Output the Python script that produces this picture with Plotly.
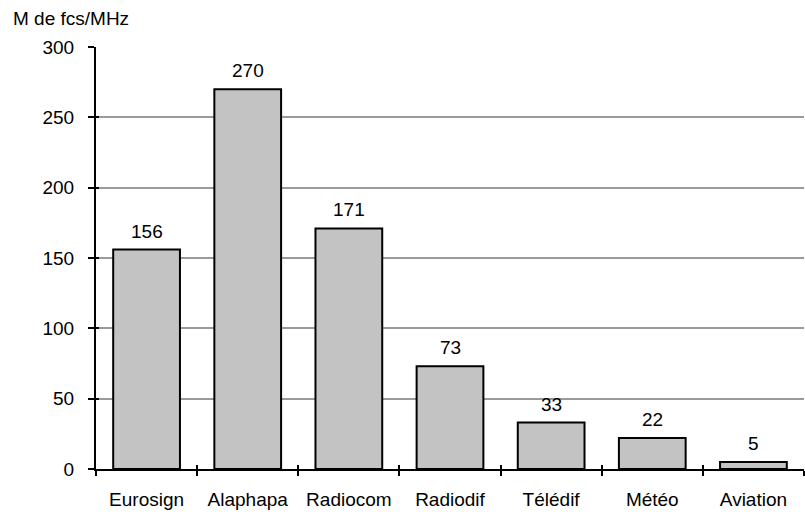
import plotly.graph_objects as go

# Bandwidth usage by service (millions of fcs per MHz)
services = ["Eurosign", "Alaphapa", "Radiocom", "Radiodif", "Télédif", "Météo", "Aviation"]
values = [156, 270, 171, 73, 33, 22, 5]
y_ticks = [0, 50, 100, 150, 200, 250, 300]

FONT = "Liberation Sans, Arial, sans-serif"
FS = 19

fig = go.Figure()
fig.add_trace(go.Bar(
    x=services,
    y=values,
    width=0.66,
    marker=dict(
        color="#e4e4e4",
        line=dict(color="black", width=2),
        pattern=dict(shape=".", size=2, solidity=0.5,
                     fgcolor="#9a9a9a", bgcolor="#e4e4e4", fillmode="replace"),
    ),
    hoverinfo="x+y",
))

# value labels above each bar
for s, v in zip(services, values):
    fig.add_annotation(x=s, y=v, text=str(v), showarrow=False,
                       yanchor="bottom", yshift=6,
                       font=dict(family=FONT, size=FS, color="black"))

fig.add_annotation(x=0, xref="paper", xanchor="left", xshift=-85,
                   y=1, yref="paper", yanchor="bottom", yshift=16,
                   text="M de fcs/MHz", showarrow=False,
                   font=dict(family=FONT, size=FS, color="black"))

fig.update_layout(
    width=805, height=512,
    margin=dict(l=96, r=1, t=47, b=43),
    paper_bgcolor="white", plot_bgcolor="white",
    showlegend=False,
    font=dict(family=FONT, size=FS, color="black"),
    bargap=0.34,
)
fig.update_xaxes(
    type="category", range=[-0.5, 6.5],
    showline=True, linecolor="black", linewidth=2,
    ticks="outside", ticklen=5, tickwidth=2, tickcolor="black",
    tickson="boundaries", showgrid=False,
    ticklabelstandoff=12,
    tickfont=dict(family=FONT, size=FS, color="black"),
)
fig.update_yaxes(
    range=[0, 300], tickvals=y_ticks,
    showline=True, linecolor="black", linewidth=2,
    ticks="outside", ticklen=6, tickwidth=2, tickcolor="black",
    showgrid=True, gridcolor="#9a9a9a", gridwidth=2,
    zeroline=False, ticklabelstandoff=10,
    tickfont=dict(family=FONT, size=FS, color="black"),
)
# inside halves of the crossing ticks on both axes
fig.update_layout(
    xaxis2=dict(overlaying="x", anchor="y", side="bottom", type="category",
                matches="x", ticks="inside", ticklen=4, tickwidth=2, tickcolor="black",
                tickson="boundaries", showticklabels=False, showgrid=False, showline=False),
    yaxis2=dict(overlaying="y", anchor="x", side="left", matches="y",
                tickvals=y_ticks, ticks="inside", ticklen=3, tickwidth=2, tickcolor="black",
                showticklabels=False, showgrid=False, showline=False, zeroline=False),
)
fig.add_trace(go.Scatter(x=services, y=[None]*len(services), xaxis="x2", yaxis="y2",
                         showlegend=False, hoverinfo="skip"))

fig.write_html("out.html")
